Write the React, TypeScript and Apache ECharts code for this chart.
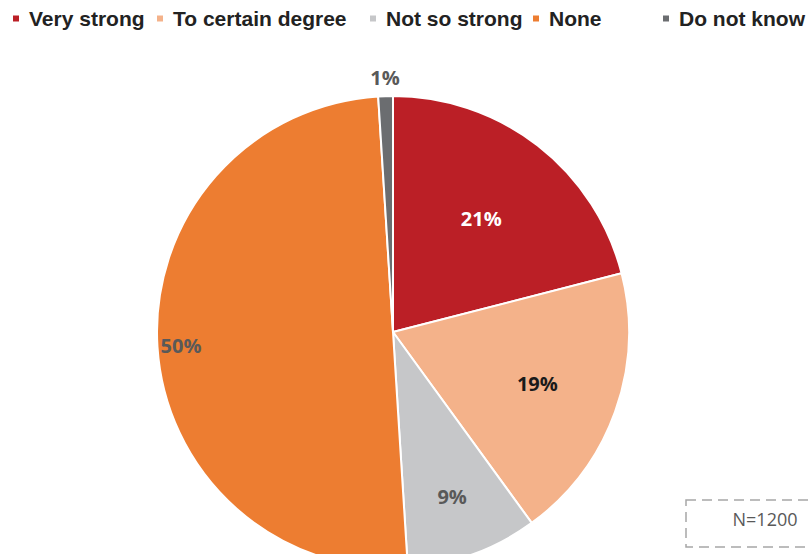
import React, { useEffect, useRef } from "react";
import * as echarts from "echarts";

const categories = ["Very strong", "To certain degree", "Not so strong", "None", "Do not know"];
const values = [21, 19, 9, 50, 1];
const colors = ["#BB1F26", "#F4B28A", "#C6C7C9", "#ED7D31", "#6B6D70"];
const labelColors = ["#FFFFFF", "#1A1A1A", "#595959", "#595959", "#595959"];
const sampleNote = "N=1200";

const CX = 393;
const CY = 332;
const R = 236;
// radial placement of each label as a fraction of the radius
const labelRadius = [0.61, 0.65, 0.74, 0.9, 1.08];
const legendLeft = [11, 155, 368, 531, 661];

export default function App() {
  const ref = useRef<HTMLDivElement>(null);
  useEffect(() => {
    if (!ref.current) return;
    const chart = echarts.init(ref.current, null, { renderer: "svg" });
    const total = values.reduce((a, b) => a + b, 0);
    const cum: number[] = [];
    let acc = 0;
    values.forEach((v) => {
      cum.push(acc + v / 2);
      acc += v;
    });
    const legends = categories.map((c, i) => ({
      data: [c],
      left: legendLeft[i],
      top: 8,
      padding: 0,
      icon: "rect",
      itemWidth: 8,
      itemHeight: 8,
      selectedMode: false,
      textStyle: {
        fontFamily: "Liberation Sans, Arial, sans-serif",
        fontWeight: "bold",
        fontSize: 21,
        color: "#222222",
        padding: [0, 0, 0, 4],
      },
    }));
    chart.setOption({
      animation: false,
      legend: legends,
      series: [
        {
          type: "pie",
          center: [CX, CY],
          radius: [0, R],
          startAngle: 90,
          clockwise: true,
          avoidLabelOverlap: false,
          emphasis: { disabled: true },
          itemStyle: { borderColor: "#FFFFFF", borderWidth: 2 },
          labelLine: { show: false },
          label: {
            show: true,
            position: "inside",
            formatter: "{c}%",
            fontFamily: "Open Sans, sans-serif",
            fontWeight: "bold",
            fontSize: 20,
          },
          labelLayout: (p: any) => {
            const i = p.dataIndex;
            const t = (cum[i] / total) * Math.PI * 2;
            const r = R * labelRadius[i];
            return {
              x: CX + Math.sin(t) * r,
              y: CY - Math.cos(t) * r,
              align: "center",
              verticalAlign: "middle",
            };
          },
          data: categories.map((c, i) => ({
            name: c,
            value: values[i],
            itemStyle: { color: colors[i] },
            label: {
              color: labelColors[i],
              position: i === 4 ? "outside" : "inside",
            },
          })),
        },
      ],
      graphic: [
        {
          type: "rect",
          shape: { x: 686, y: 500, width: 140, height: 47 },
          style: { fill: "none", stroke: "#A6A6A6", lineWidth: 1.5, lineDash: [10, 6] },
        },
        {
          type: "text",
          x: 765,
          y: 519,
          style: {
            text: sampleNote,
            fontFamily: "Open Sans, sans-serif",
            fontSize: 18,
            fill: "#595959",
            align: "center",
            verticalAlign: "middle",
          },
        },
      ],
    });
    return () => chart.dispose();
  }, []);
  return (
    <div
      ref={ref}
      style={{ position: "fixed", left: 0, top: 0, width: 809, height: 554, background: "#fff" }}
    />
  );
}
